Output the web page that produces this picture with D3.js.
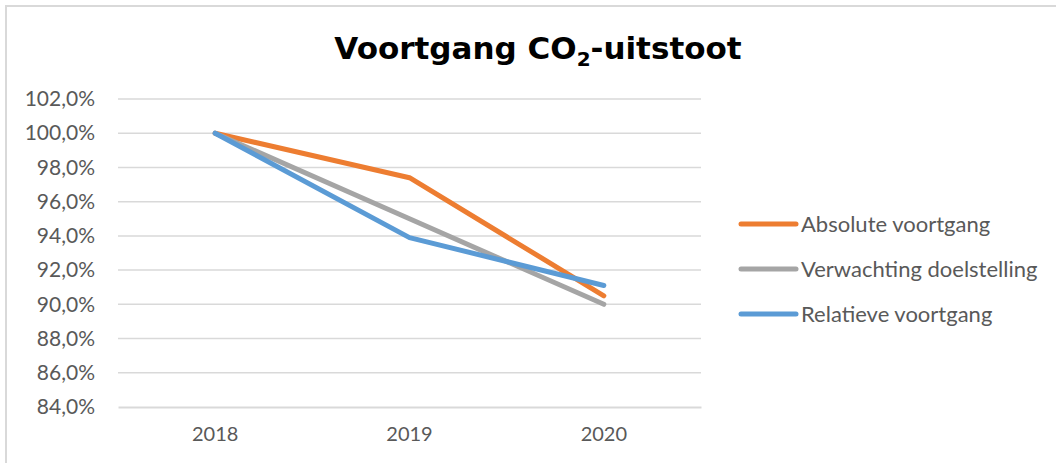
<!DOCTYPE html>
<html>
<head>
<meta charset="utf-8">
<script src="https://cdn.jsdelivr.net/npm/d3@7"></script>
<style>
  body { margin: 0; background: #fff; }
  text { font-family: "Lato", "Open Sans", sans-serif; }
</style>
</head>
<body>
<script>
// data
const years = ["2018", "2019", "2020"]
const absolute = [100.0, 97.4, 90.5]
const expected = [100.0, 95.0, 90.0]
const relative = [100.0, 93.9, 91.1]
const yTicks = [84, 86, 88, 90, 92, 94, 96, 98, 100, 102]
const seriesNames = ["Absolute voortgang", "Verwachting doelstelling", "Relatieve voortgang"]
const colors = ["#ED7D31", "#A5A5A5", "#5B9BD5"]

const width = 1056, height = 463
const plot = {left: 118, right: 701, top: 99, bottom: 407}

const svg = d3.select("body").append("svg")
  .attr("width", width).attr("height", height)

// chart border
svg.append("rect")
  .attr("x", 6).attr("y", 6)
  .attr("width", width + 10).attr("height", height + 10)
  .attr("fill", "none").attr("stroke", "#D9D9D9").attr("stroke-width", 2)

// title
const title = svg.append("text")
  .attr("x", 538).attr("y", 59)
  .attr("text-anchor", "middle")
  .style("font-family", "'DejaVu Sans', Verdana, sans-serif")
  .style("font-weight", "bold").style("font-size", "31px")
  .attr("fill", "#000")
title.append("tspan").text("Voortgang CO")
title.append("tspan").text("2").attr("dy", 7).style("font-size", "20px")
title.append("tspan").text("-uitstoot").attr("dy", -7)

const x = d3.scaleBand().domain(years).range([plot.left, plot.right])
const y = d3.scaleLinear().domain([84, 102]).range([plot.bottom, plot.top])

// gridlines
svg.append("g").selectAll("line")
  .data(yTicks.filter(d => d > 84))
  .enter().append("line")
  .attr("x1", plot.left).attr("x2", plot.right)
  .attr("y1", d => y(d)).attr("y2", d => y(d))
  .attr("stroke", "#D9D9D9").attr("stroke-width", 1.5)

// y axis labels
const yAxis = d3.axisLeft(y).tickValues(yTicks)
  .tickFormat(d => d3.format(".1f")(d).replace(".", ",") + "%")
  .tickSize(0).tickPadding(23)
const gy = svg.append("g").attr("transform", `translate(${plot.left},0)`).call(yAxis)
gy.select(".domain").remove()
gy.selectAll("text").attr("fill", "#595959").style("font-size", "21px")
  .style("font-family", "Lato, sans-serif")

// x axis
const xAxis = d3.axisBottom(x).tickSize(0).tickPadding(20)
const gx = svg.append("g").attr("transform", `translate(0,${plot.bottom})`).call(xAxis)
gx.select(".domain").attr("stroke", "#D9D9D9").attr("stroke-width", 2)
gx.selectAll("text").attr("fill", "#595959").style("font-size", "20px")
  .style("font-family", "Lato, sans-serif")

// lines
const allSeries = [absolute, expected, relative]
const line = d3.line()
  .x((d, i) => x(years[i]) + x.bandwidth() / 2)
  .y(d => y(d))

svg.append("g").selectAll("path")
  .data(allSeries)
  .enter().append("path")
  .attr("d", d => line(d))
  .attr("fill", "none")
  .attr("stroke", (d, i) => colors[i])
  .attr("stroke-width", 5)
  .attr("stroke-linecap", "round")
  .attr("stroke-linejoin", "round")

// legend
const legend = svg.append("g").selectAll("g")
  .data(seriesNames)
  .enter().append("g")
  .attr("transform", (d, i) => `translate(741,${224 + i * 45})`)
legend.append("line")
  .attr("x1", 0).attr("x2", 55)
  .attr("stroke", (d, i) => colors[i])
  .attr("stroke-width", 5).attr("stroke-linecap", "round")
legend.append("text")
  .attr("x", 60).attr("dy", "0.35em")
  .attr("fill", "#595959").style("font-size", "22px")
  .text(d => d)
</script>
</body>
</html>
